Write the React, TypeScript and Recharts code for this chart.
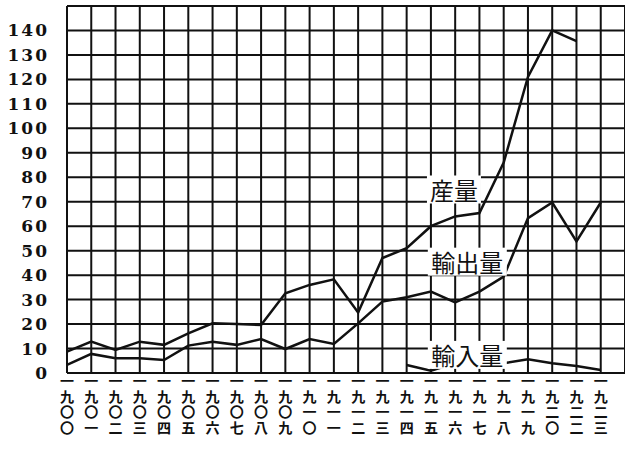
import React from "react";
import {
  LineChart,
  Line,
  XAxis,
  YAxis,
  CartesianGrid,
  ReferenceDot,
} from "recharts";

// Year labels, written vertically (一九〇〇 ... 一九二三)
const yearLabels = [
  "一九〇〇", "一九〇一", "一九〇二", "一九〇三", "一九〇四", "一九〇五",
  "一九〇六", "一九〇七", "一九〇八", "一九〇九", "一九一〇", "一九一一",
  "一九一二", "一九一三", "一九一四", "一九一五", "一九一六", "一九一七",
  "一九一八", "一九一九", "一九二〇", "一九二二", "一九二三",
];

// 産量
const production = [
  8.7, 12.8, 9.4, 12.8, 11.5, 16.2, 20.3, 20, 19.6, 32.6, 36, 38.3,
  24.7, 47, 51, 60, 64, 65.4, 86, 121, 140, 135.6, null,
];

// 輸出量
const exports = [
  3.3, 7.8, 6, 6, 5.3, 11.2, 12.8, 11.5, 13.9, 9.8, 13.9, 11.9,
  20.3, 29.2, 31, 33.3, 28.9, 33.3, 39.4, 63.3, 69.7, 53.8, 69.7,
];

// 輸入量
const imports = [
  null, null, null, null, null, null, null, null, null, null, null, null,
  null, null, 3.3, 0.9, 4, 4.6, 4, 5.6, 4, 2.9, 1.2,
];

const yTicks = [0, 10, 20, 30, 40, 50, 60, 70, 80, 90, 100, 110, 120, 130, 140, 150];
const xTicks = yearLabels.map((_, i) => i);

// series label positions in data space: [x index, value]
const seriesLabels = [
  { text: "産量", x: 15.95, y: 75 },
  { text: "輸出量", x: 16.5, y: 45.5 },
  { text: "輸入量", x: 16.5, y: 7.4 },
];

const data = yearLabels.map((label, i) => ({
  i,
  label,
  production: production[i],
  exports: exports[i],
  imports: imports[i],
}));

const INK = "#111";

// vertical year label, one text per tick
function YearTick({ x, y, payload }: any) {
  const label = yearLabels[payload.value];
  if (!label) return null;
  return (
    <text
      x={x}
      y={y + 1}
      writingMode="vertical-rl"
      style={{ writingMode: "vertical-rl" } as any}
      fontFamily="'Noto Sans CJK JP'"
      fontWeight={700}
      fontSize={14}
      letterSpacing={1.5}
      fill={INK}
    >
      {label}
    </text>
  );
}

function ValueTick({ x, y, payload }: any) {
  if (payload.value > 140) return null;
  return (
    <text
      x={x - 10}
      y={y}
      textAnchor="end"
      dominantBaseline="central"
      fontFamily="'DejaVu Serif'"
      fontWeight={700}
      fontSize={17}
      letterSpacing={2}
      fill={INK}
    >
      {payload.value}
    </text>
  );
}

function SeriesLabel({ cx, cy, text }: any) {
  const w = text.length * 25 + 4;
  return (
    <g>
      <rect x={cx - w / 2} y={cy - 14} width={w} height={28} fill="#fff" />
      <text
        x={cx}
        y={cy}
        textAnchor="middle"
        dominantBaseline="central"
        fontFamily="'Noto Sans CJK JP'"
        fontSize={24}
        fill={INK}
      >
        {text}
      </text>
    </g>
  );
}

export default function App() {
  return (
    <div style={{ width: 625, height: 451, background: "#fff" }}>
      <style>{`body{margin:0}`}</style>
      <LineChart
        width={625}
        height={451}
        data={data}
        margin={{ top: 6, right: 0, left: 5, bottom: 5 }}
      >
        <CartesianGrid stroke={INK} strokeWidth={2} />
        <XAxis
          type="number"
          dataKey="i"
          domain={[0, 23]}
          ticks={xTicks}
          interval={0}
          tick={<YearTick />}
          tickLine={false}
          axisLine={false}
          tickSize={0}
          tickMargin={0}
          height={73}
        />
        <YAxis
          type="number"
          domain={[0, 150]}
          ticks={yTicks}
          interval={0}
          tick={<ValueTick />}
          tickLine={false}
          axisLine={false}
          width={62}
        />
        <Line
          type="linear"
          dataKey="production"
          stroke={INK}
          strokeWidth={2.5}
          dot={false}
          isAnimationActive={false}
        />
        <Line
          type="linear"
          dataKey="exports"
          stroke={INK}
          strokeWidth={2.5}
          dot={false}
          isAnimationActive={false}
        />
        <Line
          type="linear"
          dataKey="imports"
          stroke={INK}
          strokeWidth={2.5}
          dot={false}
          isAnimationActive={false}
        />
        {seriesLabels.map((s) => (
          <ReferenceDot
            key={s.text}
            x={s.x}
            y={s.y}
            r={0}
            shape={(p: any) => <SeriesLabel {...p} text={s.text} />}
          />
        ))}
      </LineChart>
    </div>
  );
}
